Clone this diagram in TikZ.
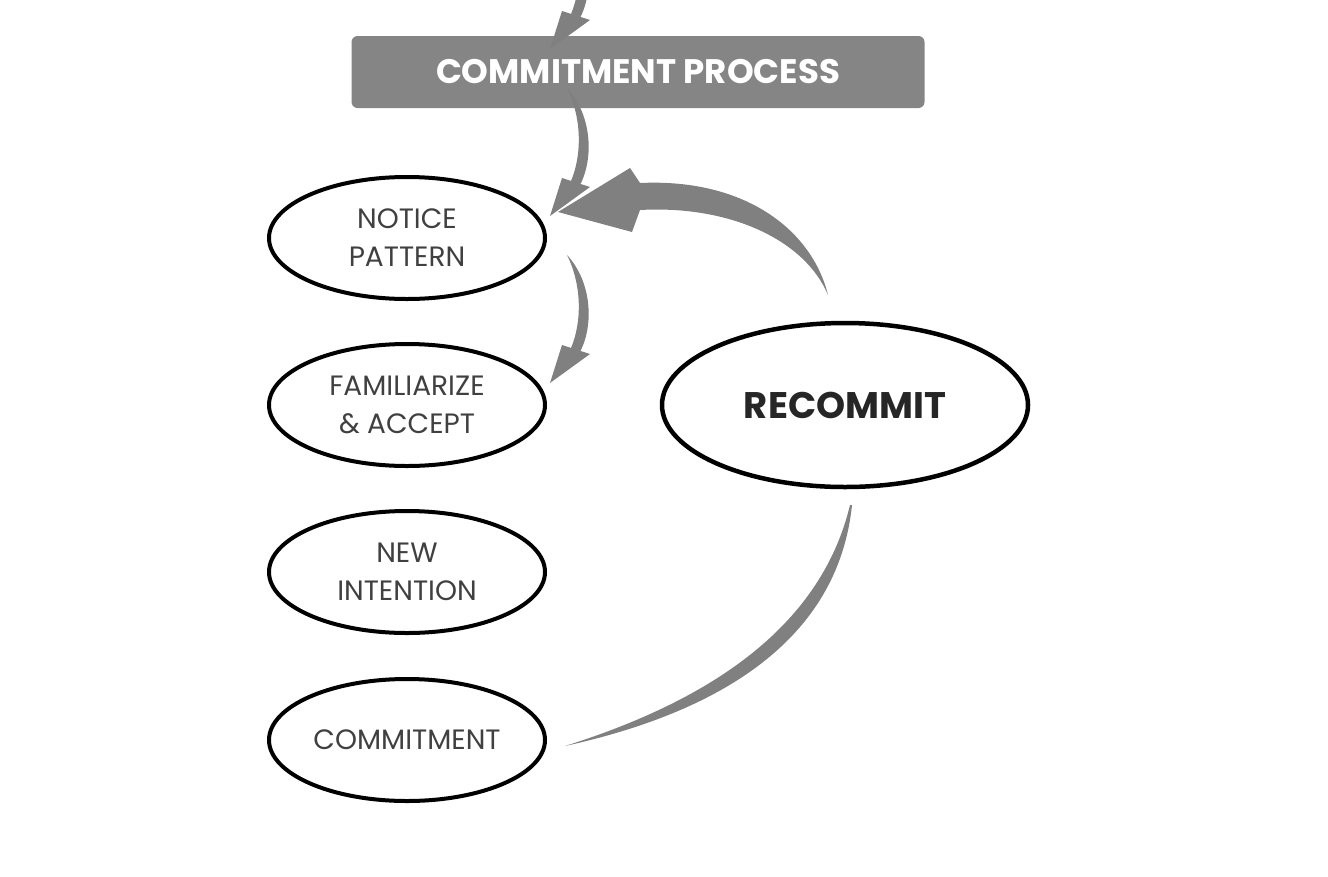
\documentclass[tikz,border=0pt]{standalone}
\usepackage{fontspec}
\setmainfont{Poppins}
\usetikzlibrary{shapes.geometric}
\begin{document}
\begin{tikzpicture}[x=1pt,y=-1pt,
  stage/.style={draw=black,line width=4pt,ellipse,minimum width=276pt,minimum height=122pt,inner sep=0pt,align=center,font=\fontsize{28}{38}\selectfont,text=black!75},
  arr/.style={fill=black!50,draw=none}]
\useasboundingbox (0,0) rectangle (1328,876);
\node[fill=black!48,rounded corners=6pt,minimum width=573pt,minimum height=72pt,text=white,font=\fontsize{34}{40}\selectfont\bfseries] (title) at (638,72) {COMMITMENT PROCESS};
\node[stage] (n1) at (407,238) {NOTICE\\PATTERN};
\node[stage] (n2) at (407,405) {FAMILIARIZE\\\& ACCEPT};
\node[stage] (n3) at (407,572) {NEW\\INTENTION};
\node[stage] (n4) at (407,740) {COMMITMENT};
\node[draw=black,line width=4.5pt,ellipse,minimum width=366pt,minimum height=164pt,inner sep=0pt,font=\fontsize{37}{44}\selectfont\bfseries,text=black!85] (rc) at (845,405) {RECOMMIT};
\foreach \d in {0,167,334}{
  \begin{scope}[yshift=\d]
  \fill[arr] (567,255) .. controls (592,282) and (594,325) .. (580,352) -- (571,348) .. controls (582,322) and (582,285) .. (567,255) -- cycle;
  \fill[arr] (590,354) -- (562,345) -- (550,383) -- cycle;
  \end{scope}}
\fill[arr] (828,295) .. controls (812,230) and (745,178) .. (640,183) -- (630,168) -- (558,212) -- (632,232) -- (640,210) .. controls (730,205) and (805,240) .. (828,295) -- cycle;
\fill[arr] (852,505) .. controls (838,640) and (720,712) .. (565,746) .. controls (705,702) and (820,630) .. (850,505) -- cycle;
\end{tikzpicture}
\end{document}
